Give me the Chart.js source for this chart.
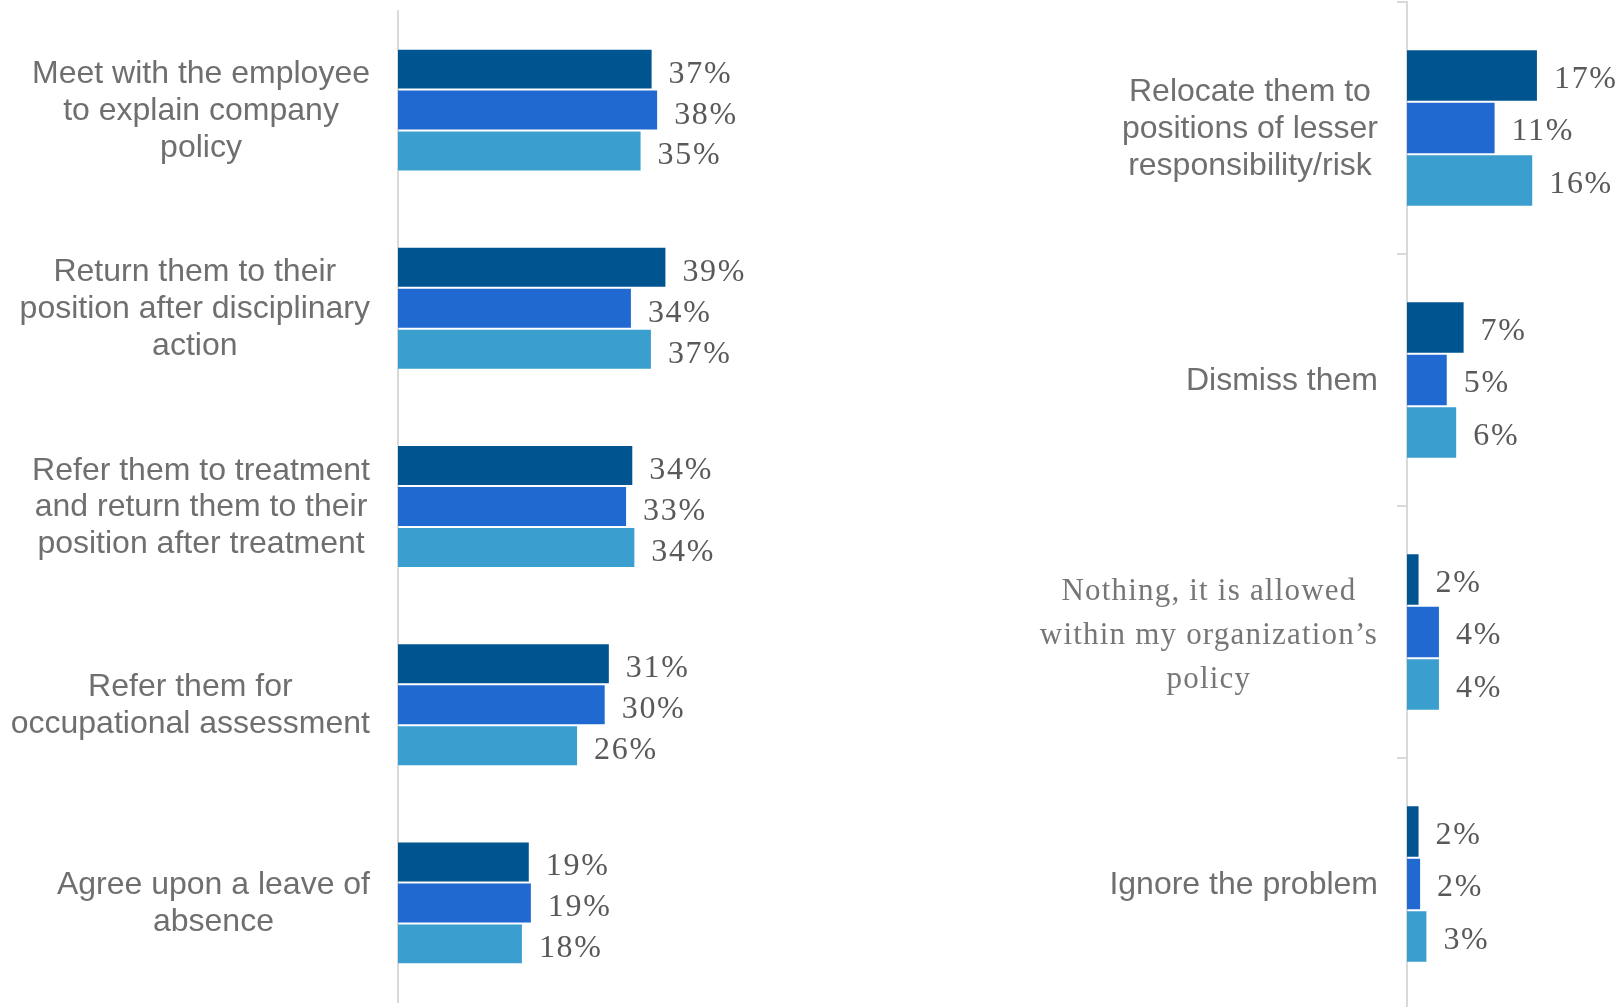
<!DOCTYPE html>
<html>
<head>
<meta charset="utf-8">
<script src="https://cdn.jsdelivr.net/npm/chart.js@4.4.1/dist/chart.umd.min.js"></script>
<style>
  html, body { margin: 0; padding: 0; background: #ffffff; overflow: hidden; width: 1621px; height: 1007px; }
  #leftWrap { position: absolute; left: 0; top: 0; width: 810px; height: 1007px; }
  #rightWrap { position: absolute; left: 820px; top: 0; width: 801px; height: 1012px; }
</style>
</head>
<body>
<div id="leftWrap"><canvas id="leftChart" width="810" height="1007"></canvas></div>
<div id="rightWrap"><canvas id="rightChart" width="801" height="1012"></canvas></div>
<script>
// ---------- DATA ----------
const leftCategories = [
  ["Meet with the employee", "to explain company", "policy"],
  ["Return them to their", "position after disciplinary", "action"],
  ["Refer them to treatment", "and return them to their", "position after treatment"],
  ["Refer them for", "occupational assessment"],
  ["Agree upon a leave of", "absence"]
];
const leftSeries1 = [36.9, 38.9, 34.1, 30.7, 19.1];
const leftSeries2 = [37.7, 33.9, 33.2, 30.1, 19.4];
const leftSeries3 = [35.3, 36.8, 34.4, 26.1, 18.1];

const rightCategories = [
  ["Relocate them to", "positions of lesser", "responsibility/risk"],
  ["Dismiss them"],
  ["Nothing, it is allowed", "within my organization\u2019s", "policy"],
  ["Ignore the problem"]
];
const rightSeries1 = [16.7, 7.35, 1.6, 1.6];
const rightSeries2 = [11.3, 5.2, 4.2, 1.8];
const rightSeries3 = [16.1, 6.4, 4.2, 2.6];

// ---------- STYLE ----------
const COLORS = ['#00548F', '#2069D0', '#3A9ECF'];
const AXIS_COLOR = '#d9d9d9';

const labelPlugin = {
  id: 'customLabels',
  afterDatasetsDraw(chart, args, opts) {
    const ctx = chart.ctx;
    ctx.save();
    // value labels at bar ends
    chart.data.datasets.forEach((ds, i) => {
      const meta = chart.getDatasetMeta(i);
      meta.data.forEach((bar, j) => {
        ctx.font = '32px "Liberation Serif", "Times New Roman", serif';
        ctx.letterSpacing = '1.7px';
        ctx.fillStyle = '#595959';
        ctx.textAlign = 'left';
        ctx.textBaseline = 'middle';
        ctx.fillText(Math.round(ds.data[j]) + '%', bar.x + 16, bar.y + opts.valueDy);
      });
    });
    // category labels: block right-aligned, lines centred
    const yScale = chart.scales.y;
    const axisX = chart.chartArea.left;
    chart.data.labels.forEach((lines, j) => {
      const special = opts.special && opts.special[j];
      const st = special || opts.base;
      ctx.font = st.font;
      ctx.letterSpacing = st.spacing;
      ctx.fillStyle = st.color;
      ctx.textAlign = 'center';
      ctx.textBaseline = 'middle';
      const arr = Array.isArray(lines) ? lines : [lines];
      let w = 0;
      arr.forEach(t => { w = Math.max(w, ctx.measureText(t).width); });
      const cx = axisX - opts.gap - w / 2;
      const cy = yScale.getPixelForTick(j) + (st.dy || 0);
      arr.forEach((t, k) => {
        ctx.fillText(t, cx, cy + (k - (arr.length - 1) / 2) * st.lineHeight + 1);
      });
    });
    ctx.restore();
  }
};

function makeDatasets(s1, s2, s3) {
  return [s1, s2, s3].map((d, i) => ({
    data: d,
    backgroundColor: COLORS[i],
    borderColor: 'rgba(255,255,255,0.15)',
    borderWidth: 1,
    borderSkipped: 'start',
    barPercentage: 1.0
  }));
}

const baseLabelStyle = {
  font: '32px "Liberation Sans", Arial, sans-serif',
  spacing: '0px',
  color: '#6f6f6f',
  lineHeight: 36.7
};

function makeChart(id, cats, s1, s2, s3, cfg) {
  const ds = makeDatasets(s1, s2, s3);
  ds.forEach(d => d.categoryPercentage = cfg.catPct);
  return new Chart(document.getElementById(id), {
    type: 'bar',
    data: { labels: cats, datasets: ds },
    plugins: [labelPlugin],
    options: {
      indexAxis: 'y',
      responsive: false,
      animation: false,
      events: [],
      layout: { padding: cfg.padding },
      scales: {
        x: { display: false, min: 0, max: cfg.max },
        y: {
          afterFit(scale) { scale.width = cfg.yWidth; },
          ticks: { display: false },
          grid: {
            display: cfg.ticks,
            drawOnChartArea: false,
            drawTicks: true,
            tickLength: 10,
            color: AXIS_COLOR,
            lineWidth: 2,
            offset: true
          },
          border: { display: true, color: AXIS_COLOR, width: 2 }
        }
      },
      plugins: {
        legend: { display: false },
        tooltip: { enabled: false },
        customLabels: {
          gap: cfg.gap,
          valueDy: cfg.valueDy,
          base: baseLabelStyle,
          special: cfg.special || {}
        }
      }
    }
  });
}

makeChart('leftChart', leftCategories, leftSeries1, leftSeries2, leftSeries3, {
  catPct: 0.62,
  padding: { top: 11, bottom: 5, left: 0, right: 67 },
  max: 50,
  yWidth: 398,
  ticks: false,
  gap: 28,
  valueDy: 5
});

makeChart('rightChart', rightCategories, rightSeries1, rightSeries2, rightSeries3, {
  catPct: 0.625,
  padding: { top: 2, bottom: 2, left: 0, right: 18 },
  max: 25,
  yWidth: 587,
  ticks: true,
  gap: 29,
  valueDy: 4,
  special: {
    2: {
      font: '31px "Liberation Serif", "Times New Roman", serif',
      spacing: '1.2px',
      color: '#767676',
      lineHeight: 44,
      dy: 3
    }
  }
});
</script>
</body>
</html>
